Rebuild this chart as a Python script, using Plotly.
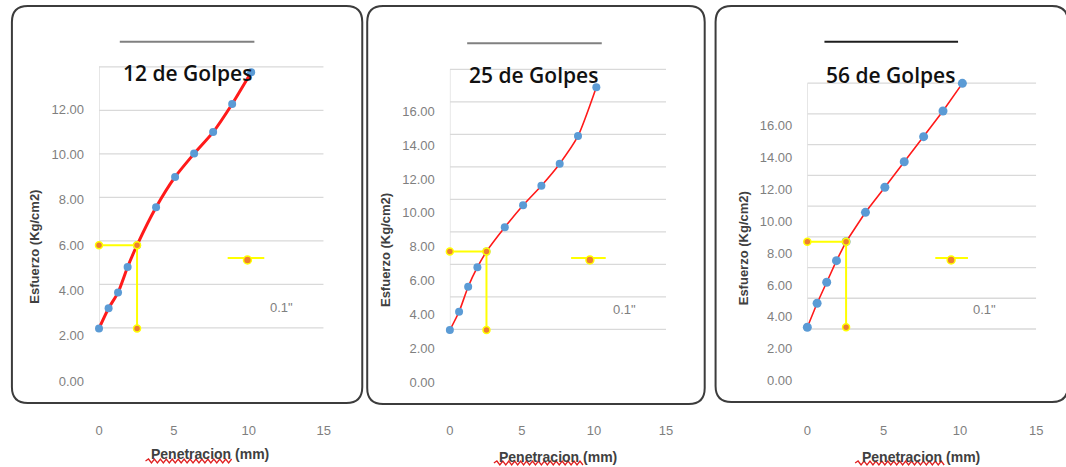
import plotly.graph_objects as go

W, H = 1066, 467

# CBR test: penetration (mm) vs stress (Kg/cm2) for three compaction efforts
penetration = [0, 0.64, 1.27, 1.91, 2.54, 3.81, 5.08, 6.35, 7.62, 8.89, 10.16]
stress_12 = [2.32, 3.21, 3.90, 5.03, 5.99, 7.66, 9.00, 10.03, 10.98, 12.22, 13.62]
stress_25 = [3.10, 4.18, 5.65, 6.80, 7.72, 9.15, 10.45, 11.60, 12.90, 14.53, 17.40]
stress_56 = [3.35, 4.85, 6.17, 7.52, 8.71, 10.55, 12.12, 13.72, 15.29, 16.90, 18.63]

titles = ["12 de Golpes", "25 de Golpes", "56 de Golpes"]
x_ticks = [0, 5, 10, 15]
y_ticks_12 = [0, 2, 4, 6, 8, 10, 12]
y_ticks_25 = [0, 2, 4, 6, 8, 10, 12, 14, 16]
y_ticks_56 = [0, 2, 4, 6, 8, 10, 12, 14, 16]
ref_label = '0.1"'
x_title = "Penetracion (mm)"
y_title = "Esfuerzo (Kg/cm2)"
ref_index = 4  # 2.54 mm = 0.1"

series = [stress_12, stress_25, stress_56]
y_ticks = [y_ticks_12, y_ticks_25, y_ticks_56]

# panel geometry in pixels
panels = [
    dict(box=(8, 6, 362, 403), x0=96, x15=323, y0=381, ppu=22.67,
         g0=2.34, gstep=1.92, ng=7, rule=(117, 253, 41.7, "#808080"),
         title=(185, 73), ytitle=(30, 247), xtitle=(208, 454), squig=(143, 230, 461),
         leg=(226, 263, 258, 246), legtext=(280, 307), lw=3, smooth=0.6, ms=8),
    dict(box=(367, 6, 708, 404), x0=450.5, x15=669, y0=382.7, ppu=16.98,
         g0=3.14, gstep=1.914, ng=9, rule=(468, 604, 43.3, "#808080"),
         title=(535, 75), ytitle=(385, 250), xtitle=(560, 457), squig=(495, 583, 463),
         leg=(573, 608, 258, 592), legtext=(627, 309), lw=1.6, smooth=0.6, ms=8),
    dict(box=(719, 6, 1075, 402), x0=811.7, x15=1043, y0=380.7, ppu=15.96,
         g0=3.24, gstep=1.925, ng=9, rule=(829, 964, 41.7, "#1e1e1e"),
         title=(896, 75), ytitle=(747, 248), xtitle=(927, 457), squig=(860, 948, 463),
         leg=(941, 974, 258, 957), legtext=(991, 309), lw=1.6, smooth=0.0, ms=9),
]


def px(x):
    return x / W


def py(y):
    return 1 - y / H


fig = go.Figure()
shapes = []
annotations = []
layout_axes = {}

TOP_PX, BOT_PX = 30, 400
tick_font = dict(family="Liberation Sans, Arial", size=13, color="#7f7f7f")


def label(text, xy, font, angle=0):
    return dict(text=text, x=px(xy[0]), y=py(xy[1]), xref="paper", yref="paper",
                xanchor="center", yanchor="middle", showarrow=False,
                textangle=angle, font=font)


for i, (p, s) in enumerate(zip(panels, series)):
    n = "" if i == 0 else str(i + 1)
    xa, ya = "x" + n, "y" + n

    lo = (p["y0"] - BOT_PX) / p["ppu"]
    hi = (p["y0"] - TOP_PX) / p["ppu"]

    layout_axes["xaxis" + n] = dict(
        domain=[px(p["x0"]), px(p["x15"])], range=[0, 15], anchor="free",
        position=py(421), tickvals=x_ticks, showgrid=False, zeroline=False,
        showline=False, ticks="", tickfont=tick_font,
    )
    layout_axes["yaxis" + n] = dict(
        domain=[py(BOT_PX), py(TOP_PX)], range=[lo, hi], anchor=xa,
        tickvals=y_ticks[i], tickformat=".2f", showgrid=False, zeroline=False,
        showline=False, ticks="", ticklabelstandoff=14, tickfont=tick_font,
    )

    # rounded frame around the panel
    bx0, by0, bx1, by1 = p["box"]
    r = 16
    pts = [("M", bx0 + r, by0), ("L", bx1 - r, by0), ("Q", bx1, by0, bx1, by0 + r),
           ("L", bx1, by1 - r), ("Q", bx1, by1, bx1 - r, by1), ("L", bx0 + r, by1),
           ("Q", bx0, by1, bx0, by1 - r), ("L", bx0, by0 + r), ("Q", bx0, by0, bx0 + r, by0)]
    path = ""
    for cmd in pts:
        c = cmd[0]
        coords = cmd[1:]
        parts = []
        for k in range(0, len(coords), 2):
            parts.append(f"{px(coords[k]):.5f},{py(coords[k + 1]):.5f}")
        path += c + " " + " ".join(parts) + " "
    shapes.append(dict(type="path", path=path + "Z", xref="paper", yref="paper",
                       line=dict(color="#3c3c3c", width=2), layer="below"))

    # horizontal gridlines and value-axis line
    for k in range(p["ng"]):
        gy = p["g0"] + k * p["gstep"]
        shapes.append(dict(type="line", xref=xa, yref=ya, x0=0, x1=15, y0=gy, y1=gy,
                           line=dict(color="#d9d9d9", width=1.3), layer="below"))
    shapes.append(dict(type="line", xref=xa, yref=ya, x0=0, x1=0, y0=p["g0"],
                       y1=p["g0"] + (p["ng"] - 1) * p["gstep"],
                       line=dict(color="#d9d9d9", width=1.3), layer="below"))

    # rule above the title
    rx0, rx1, ry, rc = p["rule"]
    shapes.append(dict(type="line", xref="paper", yref="paper", x0=px(rx0), x1=px(rx1),
                       y0=py(ry), y1=py(ry), line=dict(color=rc, width=2)))

    # stress curve
    line_style = dict(color="#ff1a1a", width=p["lw"])
    if p["smooth"]:
        line_style.update(shape="spline", smoothing=p["smooth"])
    fig.add_trace(go.Scatter(
        x=penetration, y=s, xaxis=xa, yaxis=ya, mode="lines+markers",
        line=line_style, marker=dict(color="#5b9bd5", size=p["ms"]),
        cliponaxis=False, hoverinfo="x+y",
    ))

    # 0.1" reading lines
    rx = penetration[ref_index]
    ry_val = s[ref_index]
    fig.add_trace(go.Scatter(
        x=[0, rx, rx], y=[ry_val, ry_val, s[0]], xaxis=xa, yaxis=ya, mode="lines+markers",
        line=dict(color="#ffff00", width=2),
        marker=dict(color="#ed7d31", size=7, line=dict(color="#ffff00", width=1.5)),
        cliponaxis=False, name=ref_label,
    ))

    # legend key for the reading lines
    lx0, lx1, lyy, lmx = p["leg"]
    shapes.append(dict(type="line", xref="paper", yref="paper", x0=px(lx0), x1=px(lx1),
                       y0=py(lyy), y1=py(lyy), line=dict(color="#ffff00", width=2)))
    shapes.append(dict(type="circle", xref="paper", yref="paper",
                       x0=px(lmx - 4), x1=px(lmx + 4), y0=py(lyy + 2 + 4), y1=py(lyy + 2 - 4),
                       fillcolor="#ed7d31", line=dict(color="#ffff00", width=1.5)))
    annotations.append(label(ref_label, p["legtext"],
                             dict(family="Liberation Sans, Arial", size=13, color="#808080")))

    # titles
    annotations.append(label(titles[i], p["title"],
                             dict(family="Open Sans", size=21, color="#111111", weight=600)))
    annotations.append(label(f"<b>{y_title}</b>", p["ytitle"],
                             dict(family="Liberation Sans, Arial", size=13, color="#404040"),
                             angle=-90))
    annotations.append(label(f"<b>{x_title}</b>", p["xtitle"],
                             dict(family="Liberation Sans, Arial", size=14, color="#404040")))

    # spell-check underline beneath the first word of the axis title
    sx0, sx1, sy = p["squig"]
    wave = f"M {px(sx0):.5f},{py(sy):.5f}"
    xw = sx0
    up = True
    while xw < sx1:
        xw += 3
        wave += f" L {px(xw):.5f},{py(sy - 2 if up else sy + 2):.5f}"
        up = not up
    shapes.append(dict(type="path", path=wave, xref="paper", yref="paper",
                       line=dict(color="#e02020", width=1.3)))

fig.update_layout(
    width=W, height=H, margin=dict(l=0, r=0, t=0, b=0),
    paper_bgcolor="white", plot_bgcolor="white", showlegend=False,
    shapes=shapes, annotations=annotations, **layout_axes,
)

fig.write_html("out.html")
